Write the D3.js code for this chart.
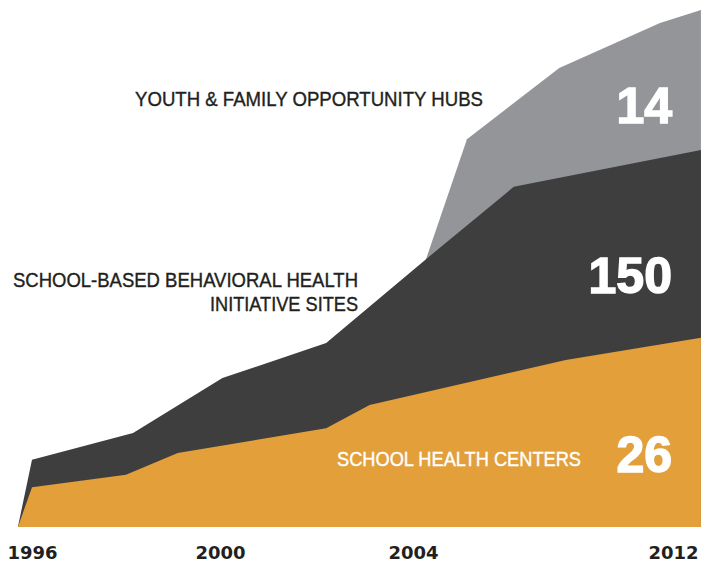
<!DOCTYPE html>
<html>
<head>
<meta charset="utf-8">
<script src="https://cdnjs.cloudflare.com/ajax/libs/d3/7.8.5/d3.min.js"></script>
<style>
  body { margin: 0; background: #fff; }
  .lbl { font-family: "Liberation Sans", Arial, sans-serif; font-size: 21px; stroke-width: 0.4px; }
  .big { font-family: "Liberation Sans", Arial, sans-serif; font-weight: bold; font-size: 50px; fill: #fff; stroke: #fff; stroke-width: 1.5px; }
  .axis text { font-family: "DejaVu Sans", sans-serif; font-weight: bold; font-size: 18px; fill: #231f20; }
</style>
</head>
<body>
<svg width="701" height="563"></svg>
<script>
// year ticks shown under the chart
var years = [1996, 2000, 2004, 2012];

// cumulative tops of each band, [year, index 0-100]
var healthCenters = [[1995.7, 0], [1996.0, 7.7], [1998.0, 10.1], [1999.1, 14.3], [2002.2, 19.1], [2003.1, 23.6], [2008.7, 32.3], [2012.86, 36.6]];
var behavioral = [[1995.7, 0], [1996.0, 13.0], [1998.15, 18.2], [2000.05, 28.8], [2002.2, 35.6], [2004.4, 51.8], [2007.1, 65.8], [2012.86, 72.9]];
var hubs = [[2004.4, 51.8], [2005.66, 75.0], [2008.5, 88.8], [2011.6, 97.5], [2012.86, 100]];

// end counts
var totals = {hubs: 14, behavioral: 150, centers: 26};

var svg = d3.select("svg");

// axis spacing in the original isn't even, so piecewise
var x = d3.scaleLinear().domain(years).range([32, 220, 413, 673]);
var y = d3.scaleLinear().domain([0, 100]).range([527, 10]);

var area = d3.area()
  .x(function(d) { return x(d[0]); })
  .y0(y(0))
  .y1(function(d) { return y(d[1]); });

// back to front
svg.append("path").datum(hubs).attr("d", area).style("fill", "#939598");
svg.append("path").datum(behavioral).attr("d", area).style("fill", "#3e3e3f");
svg.append("path").datum(healthCenters).attr("d", area).style("fill", "#e29f3a");

svg.append("g")
  .attr("class", "axis")
  .attr("transform", "translate(0," + 546 + ")")
  .call(d3.axisBottom(x).tickValues(years).tickSize(0).tickPadding(0).tickFormat(d3.format("d")))
  .call(function(g) { g.select(".domain").remove(); })
  .selectAll("text").attr("dy", "0.71em");

// labels (narrow face isn't installed, squeeze to the original widths)
function label(txt, xr, yb, w, col) {
  svg.append("text").attr("class", "lbl")
    .attr("x", xr - w).attr("y", yb)
    .attr("textLength", w).attr("lengthAdjust", "spacingAndGlyphs")
    .style("fill", col).style("stroke", col)
    .text(txt);
}
label("YOUTH & FAMILY OPPORTUNITY HUBS", 483, 106, 348, "#231f20");
label("SCHOOL-BASED BEHAVIORAL HEALTH", 358, 287, 345, "#231f20");
label("INITIATIVE SITES", 358, 311, 148, "#231f20");
label("SCHOOL HEALTH CENTERS", 581, 466, 244, "#fff");

svg.append("text").attr("class", "big").attr("x", 672).attr("y", 123).attr("text-anchor", "end").text(totals.hubs);
svg.append("text").attr("class", "big").attr("x", 672).attr("y", 293).attr("text-anchor", "end").text(totals.behavioral);
svg.append("text").attr("class", "big").attr("x", 672).attr("y", 472).attr("text-anchor", "end").text(totals.centers);
</script>
</body>
</html>
